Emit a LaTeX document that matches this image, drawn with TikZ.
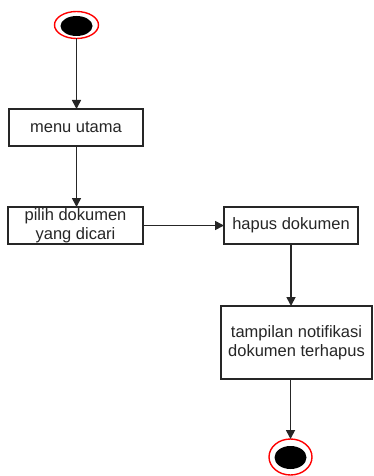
\documentclass[tikz,border=0pt]{standalone}
\usepackage{fontspec}
\setmainfont{Liberation Sans}
\usetikzlibrary{shapes.geometric,arrows.meta}
\begin{document}
\begin{tikzpicture}[x=1pt,y=-1pt,
  every node/.style={inner sep=0pt,outer sep=0pt},
  action/.style={draw=black!85,line width=1.3pt,fill=white,rectangle,align=center,
    font=\fontsize{16.5}{19}\selectfont,text=black!85},
  ring/.style={ellipse,draw=red,line width=1.4pt,fill=white},
  core/.style={ellipse,fill=black},
  flow/.style={draw=black!85,line width=1.7pt,-{Triangle[width=9pt,length=9pt]}}]
  \useasboundingbox (0,0) rectangle (373,476);
  % initial state
  \node[ring,minimum width=44pt,minimum height=27pt] (start) at (76.5,25) {};
  \node[core,minimum width=32pt,minimum height=20pt] (startcore) at (76.5,26) {};
  % actions
  \node[action,minimum width=134pt,minimum height=37pt] (menu) at (76,127.5) {menu utama};
  \node[action,minimum width=135pt,minimum height=37pt] (pilih) at (75.5,225.5) {pilih dokumen\\yang dicari};
  \node[action,minimum width=134pt,minimum height=37pt] (hapus) at (291,225.5) {hapus dokumen};
  \node[action,minimum width=151pt,minimum height=73pt] (notif) at (296.5,342.5) {tampilan notifikasi\\dokumen terhapus};
  % final state
  \node[ring,minimum width=43pt,minimum height=36pt] (end) at (290.5,457) {};
  \node[core,minimum width=32pt,minimum height=23pt] (endcore) at (290.5,457.5) {};
  % control flow
  \draw[flow] (start.south) -- (start.south |- menu.north);
  \draw[flow] (menu.south -| start.south) -- (start.south |- pilih.north);
  \draw[flow] (pilih.east) -- (hapus.west);
  \draw[flow] (hapus.south) -- (hapus.south |- notif.north);
  \draw[flow] (notif.south -| end.north) -- (end.north);
\end{tikzpicture}
\end{document}
